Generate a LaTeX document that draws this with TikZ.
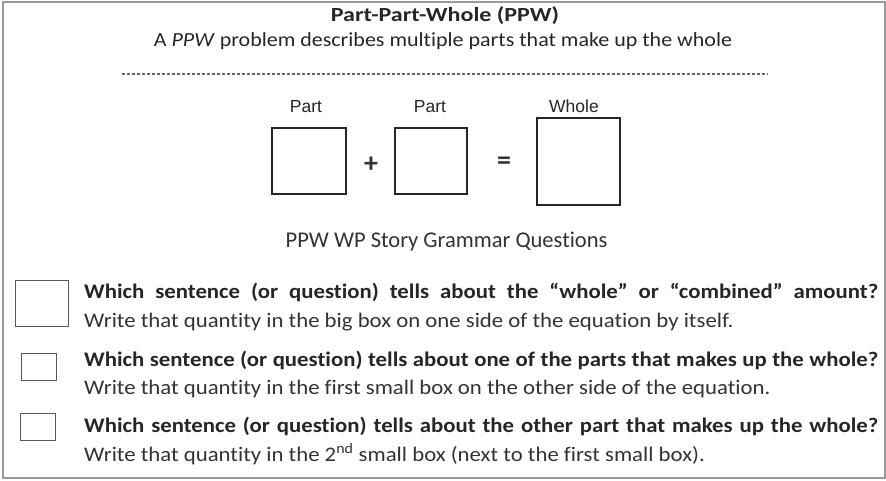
\documentclass[tikz,border=0pt]{standalone}
\usepackage{fontspec}
\setmainfont{Carlito}[Ligatures=NoCommon]
\newfontfamily\widefont{Carlito}[Ligatures=NoCommon, FakeStretch=1.1]
\newfontfamily\titlefont{Carlito}[Ligatures=NoCommon, FakeStretch=1.2]
\newfontfamily\arialfont{Liberation Sans}
\usetikzlibrary{positioning}

\begin{document}
\begin{tikzpicture}[
    x=1pt, y=-1pt,
    frame/.style={draw=black!40, line width=1.3pt},
    sepline/.style={draw=black!60, line width=1.6pt, dash pattern=on 3pt off 2pt},
    eqbox/.style={draw=black!85, line width=1.8pt, inner sep=0pt},
    chkbox/.style={draw=black!65, line width=1pt, inner sep=0pt},
    lbl/.style={anchor=base, inner sep=0pt, text=black!85, font=\arialfont\fontsize{17.5}{20}\selectfont},
    sym/.style={inner sep=0pt, text=black!80, font=\fontsize{28}{30}\selectfont\bfseries},
    head/.style={anchor=base, inner sep=0pt, text=black!85},
    qtext/.style={anchor=base west, inner sep=0pt, text=black!85, font=\widefont\fontsize{20.7}{24}\selectfont\bfseries},
    wtext/.style={anchor=base west, inner sep=0pt, text=black!80, font=\widefont\fontsize{20.7}{24}\selectfont}
  ]
  \useasboundingbox (0,0) rectangle (886,480);
  \draw[frame] (3,2) rectangle (885,478);

  % heading
  \node[head, font=\titlefont\fontsize{20}{24}\selectfont\bfseries] (title) at (445,21) {Part-Part-Whole (PPW)};
  \node[head, font=\widefont\fontsize{20}{24}\selectfont] (subtitle) at (443,46) {A \textit{PPW} problem describes multiple parts that make up the whole};
  \coordinate (dashL) at (122,74);
  \coordinate (dashR) at (768,74);
  \draw[sepline] (dashL) -- (dashR);

  % the equation
  \node[eqbox, minimum width=74pt, minimum height=66pt] (partA) at (309,161) {};
  \node[eqbox, minimum width=72pt, minimum height=66pt] (partB) at (431,161) {};
  \node[eqbox, minimum width=83pt, minimum height=87pt] (whole) at (578.5,161.5) {};
  \node[sym] (plus) at (371,165) {+};
  \node[sym] (equals) at (504,163) {=};
  \node[lbl] (lblA) at (306,112.5) {Part};
  \node[lbl] (lblB) at (430,112.5) {Part};
  \node[lbl] (lblW) at (574,112.5) {Whole};

  \node[head, font=\fontsize{22.5}{26}\selectfont, text=black!80] (grammar) at (446.5,247) {PPW WP Story Grammar Questions};

  % questions
  \node[chkbox, minimum width=53pt, minimum height=46pt] (chkW) at (41.5,303) {};
  \node[chkbox, minimum width=35pt, minimum height=27pt] (chkP) at (38.5,366.5) {};
  \node[chkbox, minimum width=35pt, minimum height=27pt] (chkO) at (37.5,426.5) {};

  \node[qtext] (q1) at (84,298) {\makebox[794pt][s]{Which sentence (or question) tells about the “whole” or “combined” amount?}};
  \node[wtext] (w1) at (84,327) {Write that quantity in the big box on one side of the equation by itself.};
  \node[qtext] (q2) at (84,366) {\makebox[794pt][s]{Which sentence (or question) tells about one of the parts that makes up the whole?}};
  \node[wtext] (w2) at (84,394) {Write that quantity in the first small box on the other side of the equation.};
  \node[qtext] (q3) at (84,432) {\makebox[794pt][s]{Which sentence (or question) tells about the other part that makes up the whole?}};
  \node[wtext] (w3) at (84,461) {Write that quantity in the 2\textsuperscript{nd} small box (next to the first small box).};
\end{tikzpicture}
\end{document}
